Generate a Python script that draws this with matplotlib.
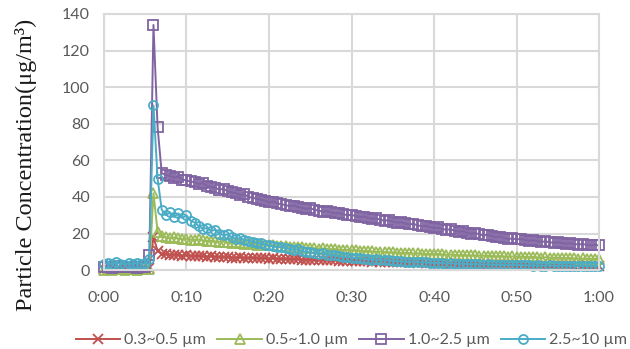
import numpy as np
import matplotlib
matplotlib.use('Agg')
import matplotlib.pyplot as plt

# concentrações (uma amostra a cada 30 s, de 0:00 a 1:00)
pm_03_05 = [0.5, 0.6, 0.4, 0.5, 0.7, 0.5, 0.4, 0.6, 0.5, 0.5, 0.6, 1.0,
            18.0, 10.5,
            9.0, 8.6, 8.3, 8.5, 8.1, 7.9, 8.2, 7.8, 7.6, 7.9, 7.5, 7.4, 7.6, 7.2, 7.3, 7.0, 7.1, 6.9, 6.8, 7.0, 6.7, 6.6, 6.8, 6.5, 6.4, 6.5,
            6.3, 6.4, 6.2, 6.1, 6.2, 6.0, 5.9, 6.0, 5.8, 5.7, 5.8, 5.6, 5.5, 5.6, 5.4, 5.3, 5.4, 5.2, 5.1, 5.2,
            5.0, 5.1, 4.9, 4.8, 4.9, 4.7, 4.8, 4.6, 4.5, 4.6, 4.4, 4.5, 4.3, 4.4, 4.2, 4.3, 4.1, 4.2, 4.0, 4.1,
            3.9, 4.0, 3.8, 3.9, 3.7, 3.8, 3.6, 3.7, 3.5, 3.6, 3.5, 3.4, 3.5, 3.3, 3.4, 3.2, 3.3, 3.2, 3.1, 3.2,
            3.0, 3.1, 3.0, 2.9, 3.0, 2.8, 2.9, 2.8, 2.7, 2.8, 2.7, 2.6, 2.7, 2.6, 2.5, 2.6, 2.5, 2.6, 2.4, 2.5, 2.4]

pm_05_10 = [0.3, 0.4, 0.3, 0.5, 0.4, 0.3, 0.4, 0.5, 0.3, 0.4, 0.4, 0.8,
            42.0, 21.0,
            18.5, 18.0, 17.6, 17.9, 17.3, 17.0, 17.2, 16.7, 16.5, 16.8, 16.2, 16.0, 16.1, 15.7, 15.5, 15.6, 15.2, 15.0, 15.1, 14.7, 14.5, 14.6, 14.2, 14.0, 14.1, 13.8,
            13.5, 13.6, 13.2, 13.0, 13.1, 12.8, 12.6, 12.7, 12.4, 12.2, 12.3, 12.0, 11.8, 11.9, 11.6, 11.4, 11.5, 11.2, 11.0, 11.1,
            10.8, 10.9, 10.6, 10.4, 10.5, 10.2, 10.0, 10.1, 9.9, 9.7, 9.8, 9.6, 9.4, 9.5, 9.3, 9.1, 9.2, 9.0, 8.8, 8.9,
            8.7, 8.8, 8.6, 8.4, 8.5, 8.3, 8.2, 8.3, 8.1, 8.0, 8.1, 7.9, 7.8, 7.9, 7.7, 7.6, 7.7, 7.5, 7.4, 7.5,
            7.3, 7.4, 7.2, 7.1, 7.2, 7.0, 6.9, 7.0, 6.8, 6.7, 6.8, 6.6, 6.5, 6.6, 6.4, 6.3, 6.4, 6.2, 6.1, 6.2, 6.0]

pm_10_25 = [1.5, 1.8, 1.4, 1.6, 2.0, 1.5, 1.7, 1.9, 1.4, 1.6, 1.8, 8.0,
            134.0, 78.0,
            53.0, 52.0, 51.5, 50.5, 51.0, 49.5, 49.0, 48.5, 48.0, 47.0, 47.5, 46.0, 45.5, 45.0, 44.0, 44.5, 43.0, 42.5, 42.0, 41.0, 41.5, 40.0, 39.5, 39.0, 38.5, 38.0,
            37.0, 37.5, 36.5, 36.0, 35.5, 35.0, 35.3, 34.5, 34.0, 33.5, 33.8, 33.0, 32.5, 32.0, 32.3, 31.5, 31.0, 31.2, 30.5, 30.0,
            30.2, 29.5, 29.0, 29.3, 28.5, 28.0, 28.3, 27.5, 27.0, 27.3, 26.5, 26.0, 26.2, 25.5, 25.0, 25.3, 24.5, 24.0, 24.2, 23.5,
            23.0, 23.3, 22.5, 22.0, 22.3, 21.5, 21.0, 21.3, 20.5, 20.0, 20.3, 19.5, 19.0, 19.3, 18.5, 18.0, 18.3, 17.5, 17.0, 17.3,
            16.8, 17.0, 16.5, 16.0, 16.3, 15.8, 15.5, 15.7, 15.2, 15.0, 15.3, 14.8, 14.5, 14.7, 14.3, 14.0, 14.3, 13.8, 13.5, 13.8, 13.5]

pm_25_10 = [3.5, 4.0, 3.2, 4.2, 3.6, 3.0, 3.8, 3.4, 4.0, 3.3, 3.7, 6.0,
            90.0, 50.0,
            33.0, 30.0, 31.5, 29.0, 31.0, 28.5, 30.0, 27.0, 26.0, 24.0, 22.5, 23.0, 21.5, 22.0, 20.0, 19.0, 19.5, 18.0, 17.0, 17.5, 16.5, 16.0, 15.5, 15.0, 14.8, 14.0,
            13.5, 13.0, 12.5, 12.8, 12.0, 11.5, 11.0, 11.3, 10.5, 10.0, 9.8, 9.5, 9.0, 9.2, 8.5, 8.0, 8.2, 7.5, 7.2, 7.0,
            6.8, 6.5, 6.6, 6.2, 6.0, 5.8, 5.9, 5.5, 5.3, 5.4, 5.0, 4.8, 4.9, 4.6, 4.5, 4.6, 4.3, 4.2, 4.3, 4.0,
            3.9, 4.0, 3.8, 3.6, 3.7, 3.5, 3.4, 3.6, 3.3, 3.2, 3.4, 3.1, 3.0, 3.2, 3.0, 2.9, 3.0, 2.8, 2.9, 2.8,
            2.7, 2.8, 2.6, 2.7, 2.5, 2.6, 2.5, 2.4, 2.6, 2.4, 2.3, 2.5, 2.4, 2.3, 2.4, 2.2, 2.3, 2.2, 2.4, 2.2, 2.3]

rotulos = ['0.3~0.5 µm', '0.5~1.0 µm', '1.0~2.5 µm', '2.5~10 µm']
cores = ['#C0504D', '#9BBB59', '#8064A2', '#4BACC6']
marcadores = ['x', '^', 's', 'o']
ticks_x = [0, 10, 20, 30, 40, 50, 60]
ticks_x_txt = ['0:00', '0:10', '0:20', '0:30', '0:40', '0:50', '1:00']

cinza = '#595959'
grade = '#D9D9D9'

fig = plt.figure(figsize=(6.3, 3.49), dpi=100)
ax = fig.add_axes([0.165, 0.226, 0.786, 0.734])

for serie, rot, cor, mk in zip([pm_03_05, pm_05_10, pm_10_25, pm_25_10], rotulos, cores, marcadores):
    tempo = np.arange(len(serie)) * 0.5  # minutos
    ax.plot(tempo, serie, color=cor, linewidth=1.4, marker=mk, markersize=6.5,
            markerfacecolor='none', markeredgecolor=cor, markeredgewidth=1.3,
            label=rot, clip_on=False)

ax.set_xlim(0, 60)
ax.set_ylim(0, 140)
ax.set_xticks(ticks_x)
ax.set_xticklabels(ticks_x_txt)
ax.set_yticks(range(0, 141, 20))

ax.grid(True, color=grade, linewidth=1.5)
ax.set_axisbelow(True)
for lado in ax.spines.values():
    lado.set_color(grade)
    lado.set_linewidth(1.5)

ax.tick_params(length=0, labelsize=11.5, labelcolor=cinza)
ax.tick_params(axis='x', pad=15)
ax.tick_params(axis='y', pad=10)
for t in ax.get_xticklabels() + ax.get_yticklabels():
    t.set_family('Lato')

ax.set_ylabel('Particle Concentration(μg/m³)', family='Liberation Serif',
              fontsize=17.5, color='#1a1a1a')
ax.yaxis.set_label_coords(-0.135, 0.41)

leg = ax.legend(loc='upper center', bbox_to_anchor=(0.5, -0.19), ncol=4, frameon=False,
                prop={'family': 'Lato', 'size': 11.5}, handlelength=2.8,
                columnspacing=0.7, handletextpad=0.25)
for t in leg.get_texts():
    t.set_color(cinza)

fig.savefig('out.png', dpi=100)
